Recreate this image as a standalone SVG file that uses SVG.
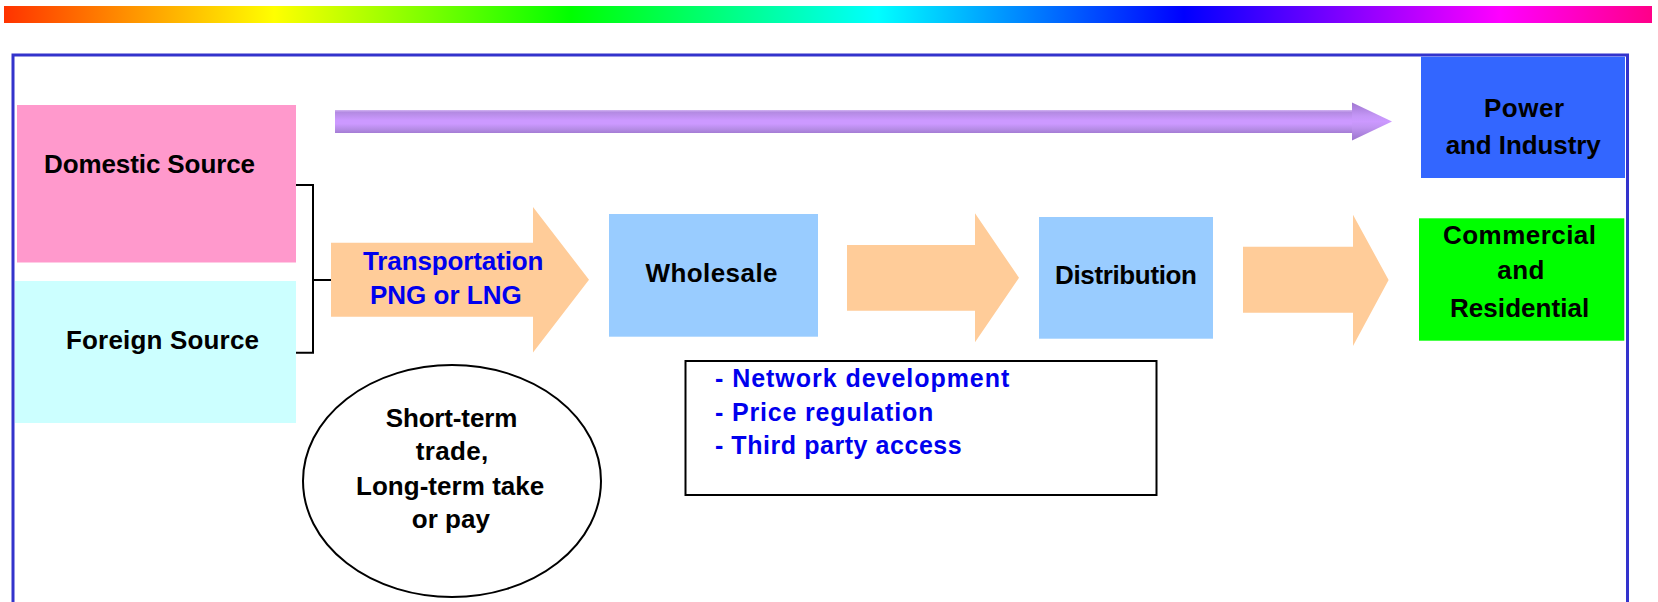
<svg xmlns="http://www.w3.org/2000/svg" width="1658" height="602" viewBox="0 0 1658 602">
  <style>
    text { font-family: "Liberation Sans", Arial, sans-serif; font-weight: bold; font-size: 26px; fill: #000; }
    .blue { fill: #0000ee; }
    .bullet { font-size: 25px; }
    .flow { fill: #ffcc99; }
    .stage { fill: #99ccff; }
    .outline { fill: none; stroke: #000; stroke-width: 2; }
  </style>
  <defs>
    <linearGradient id="spectrum" x1="0" y1="0" x2="1" y2="0">
      <stop offset="0" stop-color="#ff3300"/>
      <stop offset="0.164" stop-color="#ffff00"/>
      <stop offset="0.344" stop-color="#00ff00"/>
      <stop offset="0.53" stop-color="#00ffff"/>
      <stop offset="0.716" stop-color="#0000ff"/>
      <stop offset="0.908" stop-color="#ff00ff"/>
      <stop offset="1" stop-color="#ff0088"/>
    </linearGradient>
    <linearGradient id="tube" x1="0" y1="0" x2="0" y2="1">
      <stop offset="0" stop-color="#d2b4f2"/>
      <stop offset="0.1" stop-color="#b38ae2"/>
      <stop offset="0.45" stop-color="#cc99ff"/>
      <stop offset="0.6" stop-color="#cc99ff"/>
      <stop offset="0.85" stop-color="#b48be4"/>
      <stop offset="1" stop-color="#a47cd4"/>
    </linearGradient>
    <linearGradient id="tubeHead" x1="0" y1="0" x2="0" y2="1">
      <stop offset="0" stop-color="#9f77d0"/>
      <stop offset="0.35" stop-color="#c496f6"/>
      <stop offset="0.5" stop-color="#cc99ff"/>
      <stop offset="0.65" stop-color="#c194f2"/>
      <stop offset="1" stop-color="#9a74cc"/>
    </linearGradient>
  </defs>

  <!-- colour band along the top -->
  <rect id="spectrum-band" x="4" y="6" width="1648" height="17" fill="url(#spectrum)"/>

  <!-- outer frame -->
  <rect id="frame" x="13" y="55" width="1614.5" height="580" fill="none" stroke="#3333cc" stroke-width="3"/>

  <!-- connectors -->
  <g id="connectors">
    <path class="outline" d="M295,185 H313 V352.7 H295 M313,280 H331"/>
    <g id="direct-supply">
      <rect x="335" y="110" width="1017" height="23" fill="url(#tube)"/>
      <polygon points="1352,102.5 1392,121.5 1352,140.5" fill="url(#tubeHead)"/>
    </g>
    <polygon id="arrow-wholesale-distribution" class="flow" points="847,245 975,245 975,213.3 1019,277.8 975,342.3 975,310.7 847,310.7"/>
    <polygon id="arrow-distribution-enduse" class="flow" points="1243,246.7 1353,246.7 1353,214.7 1388.6,280 1353,346 1353,312.7 1243,312.7"/>
  </g>

  <g id="domestic-source">
    <rect x="17" y="105" width="279" height="157.5" fill="#ff99cc"/>
    <text x="44" y="172.5" textLength="211">Domestic Source</text>
  </g>

  <g id="foreign-source">
    <rect x="15" y="281" width="281" height="142" fill="#ccffff"/>
    <text x="66" y="348.5" textLength="193">Foreign Source</text>
  </g>

  <g id="transportation">
    <polygon class="flow" points="331,242.7 533,242.7 533,207 589,279.7 533,352.5 533,316.7 331,316.7"/>
    <text class="blue" x="363" y="269.5" textLength="180.5">Transportation</text>
    <text class="blue" x="370" y="303.5">PNG or LNG</text>
  </g>

  <g id="wholesale">
    <rect class="stage" x="609" y="214" width="209" height="122.7"/>
    <text x="645.5" y="281.7" textLength="132">Wholesale</text>
  </g>

  <g id="distribution">
    <rect class="stage" x="1039" y="217" width="174" height="121.7"/>
    <text x="1055" y="284.3" textLength="142">Distribution</text>
  </g>

  <g id="power-industry">
    <rect x="1421" y="56.7" width="204" height="121.3" fill="#3366ff"/>
    <text x="1484" y="116.7" textLength="80">Power</text>
    <text x="1445.7" y="154.3" textLength="155">and Industry</text>
  </g>

  <g id="commercial-residential">
    <rect x="1419" y="218.3" width="205.3" height="122.4" fill="#00ff00"/>
    <text x="1443" y="244" textLength="153">Commercial</text>
    <text x="1497.3" y="279.3" textLength="47">and</text>
    <text x="1450" y="316.7" textLength="139.3">Residential</text>
  </g>

  <g id="contracts">
    <ellipse cx="452" cy="481" rx="149" ry="116" fill="#fff" stroke="#000" stroke-width="2"/>
    <text x="385.7" y="427.3" textLength="131.6">Short-term</text>
    <text x="415.7" y="460" textLength="72.6">trade,</text>
    <text x="356" y="495" textLength="188.3">Long-term take</text>
    <text x="411.7" y="528.3" textLength="78.3">or pay</text>
  </g>

  <g id="regulation">
    <rect x="685.5" y="361" width="471" height="134" fill="#fff" stroke="#000" stroke-width="2"/>
    <text class="blue bullet" x="715" y="386.7" textLength="294.3">- Network development</text>
    <text class="blue bullet" x="715" y="420.7" textLength="218.3">- Price regulation</text>
    <text class="blue bullet" x="715" y="454.3" textLength="246.7">- Third party access</text>
  </g>
</svg>
